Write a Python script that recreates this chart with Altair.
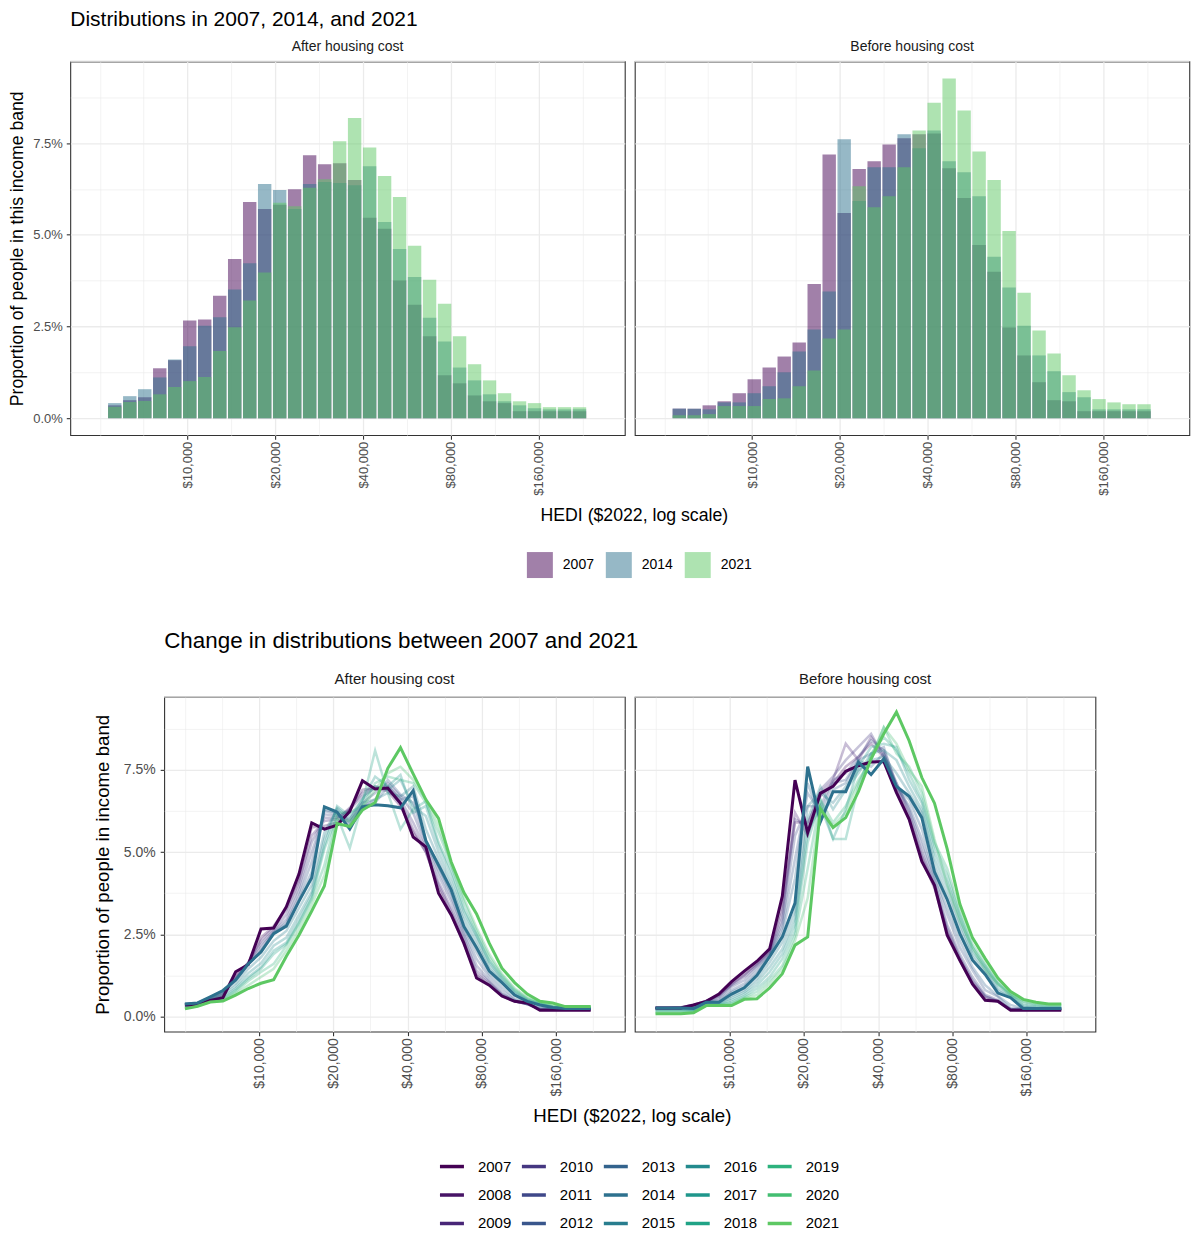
import altair as alt
import pandas as pd

FONT = "Liberation Sans"

# ---------------- data ----------------
band_x = [5000, 5629, 6336, 7132, 8029, 9038, 10174, 11453, 12893, 14513,
          16338, 18391, 20703, 23306, 26235, 29533, 33246, 37425, 42130, 47426,
          53388, 60099, 67654, 76158, 85732, 96509, 108640, 122297, 137671, 154976,
          174458, 196389, 221076]

panel_names = ["After housing cost", "Before housing cost"]
all_years = [str(y) for y in range(2007, 2022)]
bar_years = ["2007", "2014", "2021"]

# After housing cost (% of people in band)
ahc_2007 = [0.35, 0.35, 0.49, 0.57, 1.36, 1.58, 2.66, 2.69, 3.34, 4.34, 5.89, 5.70, 5.82, 6.24, 7.17, 6.92, 6.95, 6.49, 5.46, 5.16, 3.75, 3.09, 2.23, 1.17, 0.95, 0.62, 0.46, 0.41, 0.19, 0.19, 0.19, 0.19, 0.19]
ahc_2008 = [0.36, 0.37, 0.50, 0.62, 1.25, 1.62, 2.40, 2.75, 3.30, 4.20, 5.75, 5.80, 5.90, 6.30, 6.90, 6.95, 6.85, 6.40, 5.60, 5.00, 3.90, 3.10, 2.20, 1.25, 0.95, 0.62, 0.46, 0.38, 0.20, 0.20, 0.20, 0.20, 0.20]
ahc_2009 = [0.36, 0.38, 0.52, 0.66, 1.20, 1.65, 2.30, 2.70, 3.25, 4.10, 5.50, 5.95, 6.00, 6.35, 6.80, 7.00, 6.90, 6.50, 5.70, 5.00, 4.00, 3.20, 2.30, 1.30, 1.00, 0.65, 0.46, 0.38, 0.21, 0.21, 0.21, 0.21, 0.21]
ahc_2010 = [0.37, 0.39, 0.55, 0.70, 1.15, 1.62, 2.20, 2.62, 3.10, 3.95, 5.30, 6.05, 6.05, 6.30, 6.70, 6.95, 7.00, 6.60, 5.90, 5.10, 4.10, 3.30, 2.40, 1.40, 1.05, 0.68, 0.47, 0.38, 0.22, 0.22, 0.22, 0.22, 0.22]
ahc_2011 = [0.37, 0.40, 0.57, 0.74, 1.12, 1.60, 2.10, 2.58, 2.95, 3.80, 5.00, 6.15, 6.10, 6.00, 6.50, 6.80, 7.10, 6.70, 6.20, 5.20, 4.30, 3.50, 2.50, 1.55, 1.10, 0.70, 0.47, 0.37, 0.23, 0.23, 0.23, 0.23, 0.23]
ahc_2012 = [0.38, 0.40, 0.58, 0.77, 1.10, 1.58, 2.00, 2.55, 2.85, 3.65, 4.70, 6.25, 6.15, 5.90, 6.40, 6.60, 7.20, 6.75, 6.50, 5.30, 4.45, 3.65, 2.60, 1.75, 1.20, 0.80, 0.50, 0.38, 0.24, 0.24, 0.24, 0.24, 0.24]
ahc_2013 = [0.38, 0.41, 0.59, 0.78, 1.10, 1.60, 1.98, 2.52, 2.80, 3.55, 4.40, 6.30, 6.20, 5.80, 6.40, 6.50, 7.00, 6.60, 6.70, 5.35, 4.55, 3.75, 2.70, 1.95, 1.30, 0.90, 0.55, 0.40, 0.26, 0.25, 0.24, 0.24, 0.24]
ahc_2014 = [0.38, 0.41, 0.60, 0.79, 1.11, 1.60, 1.96, 2.52, 2.75, 3.51, 4.22, 6.38, 6.22, 5.70, 6.38, 6.44, 6.41, 6.35, 6.87, 5.35, 4.61, 3.85, 2.74, 2.09, 1.38, 1.03, 0.65, 0.46, 0.35, 0.27, 0.24, 0.24, 0.24]
ahc_2015 = [0.36, 0.40, 0.56, 0.72, 1.00, 1.45, 1.80, 2.30, 2.60, 3.30, 4.00, 5.60, 6.30, 5.90, 6.50, 6.60, 6.80, 6.70, 7.00, 5.70, 4.80, 3.95, 2.90, 2.20, 1.45, 1.05, 0.65, 0.45, 0.33, 0.27, 0.25, 0.25, 0.25]
ahc_2016 = [0.34, 0.38, 0.53, 0.66, 0.92, 1.32, 1.62, 2.15, 2.40, 3.10, 3.80, 5.40, 6.35, 6.00, 6.60, 7.00, 6.90, 7.20, 6.40, 6.10, 5.00, 4.10, 3.05, 2.35, 1.55, 1.10, 0.70, 0.48, 0.36, 0.28, 0.26, 0.26, 0.26]
ahc_2017 = [0.32, 0.36, 0.50, 0.60, 0.85, 1.20, 1.50, 2.00, 2.25, 2.95, 3.70, 5.20, 6.40, 6.10, 6.60, 7.30, 7.00, 7.35, 6.20, 6.40, 5.20, 4.30, 3.20, 2.45, 1.65, 1.15, 0.74, 0.50, 0.38, 0.29, 0.27, 0.27, 0.27]
ahc_2018 = [0.30, 0.34, 0.48, 0.55, 0.80, 1.15, 1.45, 1.90, 2.20, 2.85, 3.60, 5.10, 6.10, 5.12, 6.50, 8.09, 6.80, 5.70, 6.30, 6.55, 5.30, 4.45, 3.30, 2.50, 1.70, 1.20, 0.78, 0.52, 0.40, 0.30, 0.28, 0.28, 0.28]
ahc_2019 = [0.28, 0.33, 0.46, 0.52, 0.75, 1.08, 1.35, 1.60, 2.15, 2.80, 3.55, 4.60, 6.20, 6.20, 6.40, 7.10, 7.30, 7.20, 7.10, 6.50, 5.60, 4.60, 3.50, 2.60, 1.80, 1.25, 0.82, 0.55, 0.42, 0.31, 0.29, 0.29, 0.29]
ahc_2020 = [0.26, 0.31, 0.45, 0.50, 0.70, 0.95, 1.20, 1.45, 2.00, 2.65, 3.40, 4.30, 6.00, 5.95, 6.35, 6.90, 7.40, 7.60, 7.20, 6.60, 5.80, 4.65, 3.60, 2.70, 1.90, 1.30, 0.86, 0.58, 0.44, 0.33, 0.30, 0.30, 0.30]
ahc_2021 = [0.23, 0.31, 0.44, 0.47, 0.65, 0.85, 1.01, 1.12, 1.83, 2.48, 3.21, 3.97, 5.87, 5.78, 6.28, 6.51, 7.55, 8.18, 7.38, 6.60, 6.03, 4.70, 3.77, 3.12, 2.23, 1.47, 1.03, 0.68, 0.46, 0.41, 0.30, 0.30, 0.30]

# Before housing cost
bhc_2007 = [0.26, 0.26, 0.26, 0.35, 0.46, 0.68, 1.06, 1.38, 1.68, 2.06, 3.66, 7.19, 5.59, 6.79, 7.00, 7.46, 7.63, 7.74, 7.76, 6.81, 6.00, 4.72, 3.99, 2.47, 1.71, 0.98, 0.49, 0.46, 0.19, 0.19, 0.19, 0.19, 0.19]
bhc_2008 = [0.26, 0.26, 0.27, 0.36, 0.47, 0.66, 1.00, 1.30, 1.62, 2.00, 3.40, 5.90, 5.90, 6.70, 7.10, 7.60, 7.90, 8.30, 7.90, 6.90, 6.00, 4.80, 3.90, 2.55, 1.70, 1.00, 0.55, 0.45, 0.20, 0.20, 0.20, 0.20, 0.20]
bhc_2009 = [0.26, 0.26, 0.28, 0.35, 0.47, 0.64, 0.98, 1.25, 1.60, 1.98, 3.20, 6.20, 5.50, 6.80, 7.20, 8.30, 7.80, 8.50, 8.00, 7.00, 6.10, 4.90, 3.95, 2.60, 1.75, 1.05, 0.60, 0.46, 0.21, 0.21, 0.21, 0.21, 0.21]
bhc_2010 = [0.26, 0.26, 0.27, 0.33, 0.46, 0.60, 0.95, 1.20, 1.55, 1.95, 3.00, 6.00, 5.80, 6.90, 7.30, 7.80, 8.20, 8.60, 7.90, 7.10, 6.20, 5.00, 4.00, 2.70, 1.80, 1.10, 0.62, 0.47, 0.22, 0.22, 0.22, 0.22, 0.22]
bhc_2011 = [0.26, 0.26, 0.26, 0.30, 0.45, 0.56, 0.90, 1.10, 1.50, 1.90, 2.85, 5.50, 6.40, 6.40, 7.20, 7.40, 7.90, 8.40, 8.10, 7.10, 6.30, 5.20, 4.10, 2.80, 1.90, 1.20, 0.66, 0.50, 0.23, 0.23, 0.23, 0.23, 0.23]
bhc_2012 = [0.26, 0.26, 0.25, 0.28, 0.44, 0.50, 0.80, 1.00, 1.40, 1.88, 2.70, 4.80, 6.80, 6.20, 7.10, 7.20, 7.80, 8.00, 8.20, 7.00, 6.40, 5.40, 4.20, 3.10, 2.10, 1.40, 0.80, 0.60, 0.25, 0.24, 0.24, 0.24, 0.24]
bhc_2013 = [0.26, 0.26, 0.25, 0.26, 0.43, 0.46, 0.74, 0.92, 1.30, 1.85, 2.55, 4.20, 7.10, 6.00, 6.90, 7.10, 7.80, 7.60, 8.00, 7.00, 6.60, 5.70, 4.30, 3.30, 2.30, 1.50, 0.95, 0.62, 0.35, 0.24, 0.24, 0.24, 0.24]
bhc_2014 = [0.26, 0.26, 0.26, 0.24, 0.43, 0.43, 0.68, 0.87, 1.25, 1.82, 2.42, 3.45, 7.60, 5.92, 6.84, 6.84, 7.74, 7.36, 7.84, 7.00, 6.70, 6.05, 4.40, 3.56, 2.52, 1.71, 1.28, 0.71, 0.57, 0.24, 0.24, 0.24, 0.24]
bhc_2015 = [0.24, 0.24, 0.24, 0.22, 0.40, 0.42, 0.62, 0.80, 1.15, 1.65, 2.25, 3.20, 6.40, 6.80, 6.50, 7.00, 7.50, 7.80, 7.90, 7.40, 6.80, 6.20, 4.60, 3.70, 2.70, 1.80, 1.35, 0.78, 0.58, 0.28, 0.25, 0.25, 0.25]
bhc_2016 = [0.22, 0.22, 0.22, 0.20, 0.38, 0.40, 0.56, 0.74, 1.05, 1.50, 2.05, 3.00, 6.00, 7.00, 6.30, 6.90, 7.40, 8.00, 8.10, 7.80, 7.00, 6.30, 4.80, 3.90, 2.85, 1.90, 1.45, 0.85, 0.60, 0.30, 0.27, 0.26, 0.26]
bhc_2017 = [0.20, 0.20, 0.20, 0.18, 0.37, 0.38, 0.50, 0.68, 0.95, 1.35, 1.90, 2.80, 5.60, 6.40, 5.40, 6.30, 7.60, 8.20, 8.30, 8.20, 7.20, 6.50, 5.00, 4.10, 3.00, 2.00, 1.50, 0.95, 0.64, 0.34, 0.30, 0.28, 0.28]
bhc_2018 = [0.17, 0.17, 0.17, 0.16, 0.36, 0.36, 0.44, 0.62, 0.85, 1.20, 1.75, 2.60, 5.30, 6.60, 5.40, 5.40, 7.00, 8.00, 8.50, 8.10, 7.40, 6.60, 5.20, 4.30, 3.10, 2.10, 1.55, 1.00, 0.68, 0.40, 0.34, 0.30, 0.30]
bhc_2019 = [0.14, 0.14, 0.14, 0.14, 0.35, 0.35, 0.40, 0.58, 0.75, 1.10, 1.55, 2.45, 4.50, 6.60, 5.90, 6.40, 7.20, 7.80, 8.80, 8.00, 7.60, 6.80, 5.30, 4.50, 3.20, 2.20, 1.60, 1.05, 0.70, 0.45, 0.36, 0.33, 0.33]
bhc_2020 = [0.11, 0.11, 0.11, 0.12, 0.34, 0.34, 0.36, 0.55, 0.65, 1.00, 1.45, 2.30, 3.60, 6.40, 5.80, 6.20, 7.10, 7.90, 8.80, 8.30, 7.50, 7.00, 5.40, 4.00, 2.90, 2.10, 1.40, 1.00, 0.65, 0.48, 0.40, 0.36, 0.36]
bhc_2021 = [0.08, 0.08, 0.08, 0.11, 0.33, 0.33, 0.33, 0.52, 0.54, 0.87, 1.30, 2.17, 2.42, 6.32, 5.75, 6.05, 6.84, 7.84, 8.60, 9.26, 8.39, 7.27, 6.49, 5.10, 3.42, 2.39, 1.76, 1.17, 0.76, 0.52, 0.43, 0.38, 0.38]

ahc_series = [ahc_2007, ahc_2008, ahc_2009, ahc_2010, ahc_2011, ahc_2012, ahc_2013, ahc_2014,
              ahc_2015, ahc_2016, ahc_2017, ahc_2018, ahc_2019, ahc_2020, ahc_2021]
bhc_series = [bhc_2007, bhc_2008, bhc_2009, bhc_2010, bhc_2011, bhc_2012, bhc_2013, bhc_2014,
              bhc_2015, bhc_2016, bhc_2017, bhc_2018, bhc_2019, bhc_2020, bhc_2021]

# axis breaks
x_major = [10000, 20000, 40000, 80000, 160000]
x_minor = [5000, 7071, 14142, 28284, 56569, 113137, 226274]
y_major = [0, 2.5, 5, 7.5]
y_minor = [1.25, 3.75, 6.25, 8.75]

# ---------------- styles ----------------
bar_colors = ["#440154", "#2D718E", "#5DC863"]
line_colors = ["#440154", "#471466", "#482677", "#453781", "#3F4889", "#39568C", "#33638D",
               "#2D718E", "#287D8E", "#238A8D", "#1F968B", "#20A386", "#2DB27D", "#43BE71",
               "#5DC863"]
legend_order = ["2007", "2010", "2013", "2016", "2019",
                "2008", "2011", "2014", "2017", "2020",
                "2009", "2012", "2015", "2018", "2021"]
color_of = dict(zip(all_years, line_colors))

X_DOMAIN = [4120, 304000]
Y_DOMAIN = [-0.463, 9.723]

rows = []
for panel, series_list in zip(panel_names, [ahc_series, bhc_series]):
    for yr, vals in zip(all_years, series_list):
        for k, (b, v) in enumerate(zip(band_x, vals)):
            rows.append({"panel": panel, "year": yr, "k": k, "band": b, "pct": v})
df = pd.DataFrame(rows)

bars_df = df[df["year"].isin(bar_years) & (df["k"] >= 1)]
faint_df = df[~df["year"].isin(bar_years)]
bold_df = df[df["year"].isin(bar_years)]

x_test = "indexof([10000,20000,40000,80000,160000], datum.value) >= 0"
y_test = "datum.value % 2.5 == 0"


def cond(test, a, b):
    return {"condition": {"test": test, "value": a}, "value": b}


x_scale = alt.Scale(type="log", domain=X_DOMAIN, nice=False, zero=False)
y_scale = alt.Scale(domain=Y_DOMAIN, nice=False, zero=False)


def x_axis(label_size, title=None, title_size=16, title_x=0, title_y=0):
    kw = dict(
        values=x_major + x_minor,
        labelExpr=f"{x_test} ? '$' + format(datum.value, ',') : ''",
        labelAngle=270,
        labelFontSize=label_size,
        labelOverlap=False,
        labelFlush=False,
        labelPadding=2,
        tickOpacity=cond(x_test, 1, 0),
        gridWidth=cond(x_test, 1.3, 0.6),
    )
    if title:
        kw.update(title=title, titleFontSize=title_size, titleX=title_x, titleY=title_y,
                  titleAlign="center", titleBaseline="middle", titleAnchor="start")
    else:
        kw.update(title=None)
    return alt.Axis(**kw)


def y_axis(label_size, title=None, title_size=16, title_pad=5, label_pad=4):
    if title is None:
        return alt.Axis(values=y_major + y_minor, labels=False, ticks=False, title=None,
                        gridWidth=cond(y_test, 1.3, 0.6))
    return alt.Axis(
        values=y_major + y_minor,
        labelExpr=f"{y_test} ? format(datum.value, '.1f') + '%' : ''",
        labelFontSize=label_size,
        labelPadding=label_pad,
        tickOpacity=cond(y_test, 1, 0),
        gridWidth=cond(y_test, 1.3, 0.6),
        title=title,
        titleFontSize=title_size,
        titlePadding=title_pad,
    )


def top_edge(w):
    return alt.Chart(pd.DataFrame({"e": [0]})).mark_rule(color="#CDCDCD", strokeWidth=1.6).encode(
        x=alt.value(0), x2=alt.value(w), y=alt.value(0))


# ---------------- top block: bars ----------------
TW, TH = 555, 374


def top_panel(panel, first):
    d = bars_df[bars_df["panel"] == panel]
    legend = None
    if first:
        legend = alt.Legend(orient="none", legendX=457, legendY=491, direction="horizontal",
                            title=None, symbolType="square", symbolSize=676, symbolOpacity=0.5,
                            symbolStrokeWidth=0, labelFontSize=14, labelOffset=10,
                            columnPadding=11, padding=0, labelColor="black", labelFont=FONT)
    bars = alt.Chart(d).mark_bar(opacity=0.5, width=13.4).encode(
        x=alt.X("band:Q", scale=x_scale,
                axis=x_axis(13, "HEDI ($2022, log scale)" if first else None, 17.7, 564, 80)),
        y=alt.Y("pct:Q", scale=y_scale, stack=None,
                axis=y_axis(13, "Proportion of people in this income band" if first else None,
                            17.6, 6, 4)),
        color=alt.Color("year:N", scale=alt.Scale(domain=bar_years, range=bar_colors), legend=legend),
    )
    return alt.layer(bars, top_edge(TW)).properties(
        width=TW, height=TH,
        title=alt.Title(panel, fontSize=14, fontWeight="normal", color="#1A1A1A",
                        anchor="middle", offset=7, font=FONT))


top = alt.hconcat(
    top_panel(panel_names[0], True), top_panel(panel_names[1], False),
    spacing=10, bounds="flush",
    title=alt.Title("Distributions in 2007, 2014, and 2021", anchor="start", frame="group",
                    fontSize=21, fontWeight="normal", color="black", offset=9, font=FONT),
).resolve_scale(color="independent")

# ---------------- bottom block: lines ----------------
BW, BH = 461, 335
line_scale = alt.Scale(domain=legend_order, range=[color_of[y] for y in legend_order])


def bottom_panel(panel, first):
    legend = None
    if first:
        legend = alt.Legend(orient="none", legendX=274, legendY=456, direction="horizontal",
                            columns=5, title=None, symbolType="stroke", symbolSize=576,
                            symbolStrokeWidth=3.5, symbolOpacity=1, labelFontSize=15,
                            labelOffset=12, columnPadding=3, rowPadding=6.5, padding=0,
                            labelColor="black", labelFont=FONT)
    enc = dict(
        x=alt.X("band:Q", scale=x_scale,
                axis=x_axis(14, "HEDI ($2022, log scale)" if first else None, 18.7, 468, 84)),
        y=alt.Y("pct:Q", scale=y_scale,
                axis=y_axis(14, "Proportion of people in income band" if first else None,
                            18.7, 11, 5)),
        color=alt.Color("year:N", scale=line_scale, legend=legend),
    )
    faint = alt.Chart(faint_df[faint_df["panel"] == panel]).mark_line(
        strokeWidth=2.5, opacity=0.3).encode(**enc)
    bold = alt.Chart(bold_df[bold_df["panel"] == panel]).mark_line(
        strokeWidth=3).encode(**enc)
    return alt.layer(faint, bold, top_edge(BW)).properties(
        width=BW, height=BH,
        title=alt.Title(panel, fontSize=15, fontWeight="normal", color="#1A1A1A",
                        anchor="middle", offset=9, font=FONT))


bottom = alt.hconcat(
    bottom_panel(panel_names[0], True), bottom_panel(panel_names[1], False),
    spacing=10, bounds="flush",
    title=alt.Title("Change in distributions between 2007 and 2021", anchor="start", frame="group",
                    fontSize=22.4, fontWeight="normal", color="black", offset=19, font=FONT),
).resolve_scale(color="independent")

chart = alt.vconcat(top, bottom, spacing=51, center=True).resolve_scale(
    color="independent"
).properties(padding=0, background="white").configure(font=FONT).configure_view(
    stroke="#333333", strokeWidth=1.1
).configure_axis(
    domain=False, tickColor="#333333", tickSize=4, tickWidth=1.1, gridColor="#EBEBEB",
    labelColor="#4D4D4D", labelFont=FONT, titleFont=FONT, titleFontWeight="normal",
    titleColor="black"
)

chart.save("out.html", embed_options={"renderer": "svg", "actions": False})
